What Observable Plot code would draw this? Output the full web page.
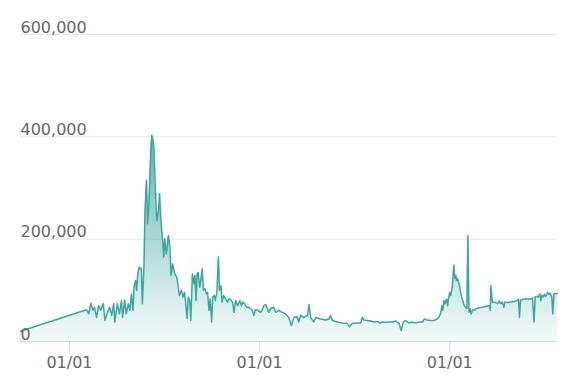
<!DOCTYPE html>
<html><head><meta charset="utf-8">
<script src="https://cdn.jsdelivr.net/npm/d3@7"></script>
<script src="https://cdn.jsdelivr.net/npm/@observablehq/plot@0.6"></script>
<style>html,body{margin:0;padding:0;background:#fff}</style>
</head><body><div id="chart"></div>
<script>
// Dates are stored as day offsets from this origin date
const originDate = "2017-01-01";
const dayOffsets = [-94,33,37,41,45,48,52,56,60,65,68,72,77,81,85,87,92,96,100,102,106,109,113,116,119,122,124,127,129,131,134,138,140,143,145,148,150,153,156,158,160,162,164,166,168,171,173,176,179,181,183,186,190,193,195,198,202,206,208,211,215,218,221,226,228,231,233,236,239,241,243,245,247,250,252,255,257,260,263,265,268,270,273,275,278,280,283,286,288,291,293,296,300,303,306,309,313,316,319,323,327,330,333,336,340,344,348,351,354,357,362,367,370,373,377,380,383,386,392,396,402,409,415,421,426,431,437,440,444,450,457,460,463,469,473,482,492,498,501,505,514,524,533,538,543,553,559,562,565,572,578,585,591,597,601,607,613,620,626,630,633,637,641,645,652,658,665,671,678,681,687,693,700,706,709,713,715,717,719,721,724,726,727,730,732,735,738,740,742,743,745,748,751,753,756,758,761,763,765,767,769,771,774,777,780,786,793,799,806,808,809,812,818,822,825,828,831,834,836,841,847,854,860,862,864,866,873,879,886,889,892,894,897,900,903,905,907,909,912,914,918,921,923,926,928,930,934,937];
const values = [20000,62000,54000,75000,61000,67000,47000,70000,61000,74000,41000,54000,67000,51000,74000,38000,74000,54000,80000,47000,81000,54000,74000,61000,93000,61000,106000,119000,100000,132000,145000,142000,74000,145000,256000,315000,230000,279000,367000,403000,396000,380000,324000,269000,236000,256000,289000,230000,197000,165000,201000,171000,207000,184000,129000,152000,132000,126000,113000,90000,100000,87000,96000,45000,87000,80000,41000,132000,113000,129000,80000,132000,135000,106000,119000,142000,100000,103000,93000,96000,61000,83000,38000,87000,90000,80000,96000,165000,100000,109000,77000,90000,83000,77000,83000,82000,77000,57000,80000,70000,80000,70000,77000,74000,67000,67000,64000,61000,51000,62000,61000,57000,61000,70000,72000,64000,57000,64000,67000,57000,61000,57000,54000,47000,31000,47000,49000,38000,51000,47000,51000,72000,47000,38000,47000,44000,42000,44000,51000,41000,38000,36000,35000,29000,35000,36000,36000,47000,42000,41000,40000,38000,39000,36000,38000,37000,38000,38000,40000,38000,35000,21000,38000,41000,36000,38000,36000,38000,38000,44000,42000,41000,41000,44000,47000,56000,70000,61000,80000,74000,83000,70000,80000,96000,90000,106000,149000,123000,129000,119000,123000,113000,96000,87000,77000,70000,67000,64000,207000,57000,64000,54000,62000,61000,64000,66000,67000,69000,70000,61000,109000,77000,76000,74000,79000,74000,77000,67000,77000,76000,77000,78000,80000,83000,47000,81000,83000,83000,83000,85000,38000,87000,88000,87000,93000,80000,90000,87000,92000,88000,96000,92000,94000,87000,54000,93000,94000,94000];
const yTicks = [0, 200000, 400000, 600000];
const xTickDates = ["2017-01-01", "2018-01-01", "2019-01-01"];

const origin = new Date(originDate);
const data = dayOffsets.map((d, i) => ({date: d3.utcDay.offset(origin, d), value: values[i]}));
const xTicks = xTickDates.map(s => new Date(s));
const teal = "#3aa69e";

const plot = Plot.plot({
  width: 564, height: 390,
  marginLeft: 20, marginRight: 7, marginTop: 34, marginBottom: 49,
  style: {fontFamily: "DejaVu Sans", fontSize: "16px", background: "#fff", overflow: "visible"},
  x: {type: "utc", axis: null, label: null},
  y: {domain: [0, 600000], axis: null, label: null},
  marks: [
    Plot.ruleY(yTicks.slice(1), {stroke: "#e6e6e6"}),
    Plot.areaY(data, {x: "date", y: "value", fill: "url(#areaGrad)"}),
    Plot.lineY(data, {x: "date", y: "value", stroke: teal, strokeWidth: 1.5}),
    Plot.ruleY([0], {stroke: "#ccd6eb"}),
    Plot.axisX(xTicks, {tickFormat: d3.utcFormat("%m/%d"), tickSize: 10, tickPadding: 5, stroke: "#ccd6eb", fill: "#666", label: null}),
    Plot.text(yTicks, {y: d => d, text: d => d3.format(",")(d), frameAnchor: "left", textAnchor: "start", dy: -7, fill: "#666"})
  ]
});

const ns = "http://www.w3.org/2000/svg";
const defs = document.createElementNS(ns, "defs");
const grad = document.createElementNS(ns, "linearGradient");
grad.setAttribute("id", "areaGrad");
grad.setAttribute("x1", "0"); grad.setAttribute("y1", "0");
grad.setAttribute("x2", "0"); grad.setAttribute("y2", "1");
[[0, 0.8], [1, 0.05]].forEach(([o, op]) => {
  const s = document.createElementNS(ns, "stop");
  s.setAttribute("offset", o);
  s.setAttribute("stop-color", teal);
  s.setAttribute("stop-opacity", op);
  grad.appendChild(s);
});
defs.appendChild(grad);
plot.prepend(defs);
document.getElementById("chart").appendChild(plot);
</script>
</body></html>
